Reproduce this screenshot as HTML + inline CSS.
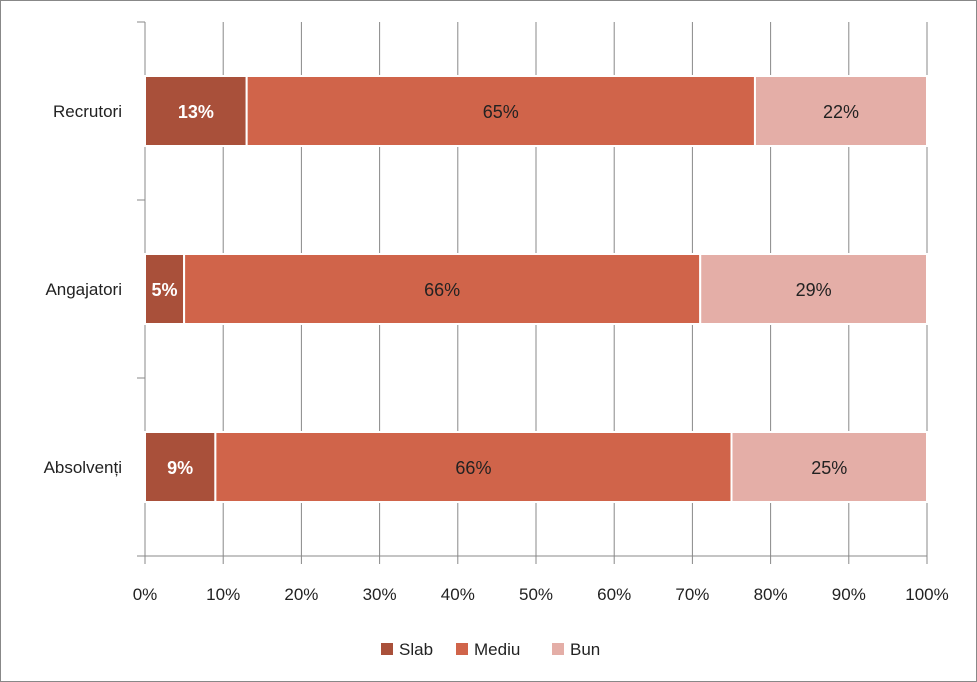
<!DOCTYPE html>
<html><head><meta charset="utf-8"><style>
body{margin:0;background:#fff;}
svg{display:block;font-family:"Liberation Sans",sans-serif;}
</style></head><body>
<svg id="c" width="977" height="682">
<rect x="0.5" y="0.5" width="976" height="681" fill="#fff" stroke="#888"/>
</svg>
<script>
const categories=["Recrutori","Angajatori","Absolvenți"];
const seriesNames=["Slab","Mediu","Bun"];
const slab=[13,5,9];
const mediu=[65,66,66];
const bun=[22,29,25];
const ticks=[0,10,20,30,40,50,60,70,80,90,100];
const colors=["#a9503a","#d0644a","#e4aea7"];
const labelColors=["#fff","#222","#222"];
const svg=document.getElementById('c');
const NS="http://www.w3.org/2000/svg";
const x0=145,x1=927,yTop=22,yBot=556;
const xs=v=>x0+(x1-x0)*v/100;
const band=(yBot-yTop)/categories.length;
function mk(t,a,p){const e=document.createElementNS(NS,t);for(const k in a)e.setAttribute(k,a[k]);(p||svg).appendChild(e);return e;}
ticks.forEach(t=>{
 const g=mk('line',{x1:xs(t),x2:xs(t),y1:yTop,y2:yBot+8,stroke:'#888','stroke-width':1});
 
 
 const l=mk('text',{x:xs(t),y:600,'text-anchor':'middle','font-size':17,fill:'#222'});
 l.textContent=t+'%';
 
 
});
const ax=mk('line',{x1:x0,x2:x1,y1:yBot,y2:yBot,stroke:'#888'});


const ay=mk('line',{x1:x0,x2:x0,y1:yTop,y2:yBot,stroke:'#888'});


for(let i=0;i<=categories.length;i++){
 const tk=mk('line',{x1:x0-8,x2:x0,y1:yTop+band*i,y2:yTop+band*i,stroke:'#888'});
 
 
}
const data=[slab,mediu,bun];
categories.forEach((c,i)=>{
 const cy=yTop+band*i+band/2;
 const h=70;
 const cl=mk('text',{x:122,y:cy+6,'text-anchor':'end','font-size':17,fill:'#222'});
 cl.textContent=c;
 
 
 let acc=0;
 data.forEach((s,j)=>{
  const v=s[i];
  const r=mk('rect',{x:xs(acc),y:cy-h/2,width:xs(acc+v)-xs(acc),height:h,fill:colors[j],stroke:'#fff','stroke-width':2});
  
  
  const t=mk('text',{x:(xs(acc)+xs(acc+v))/2,y:cy+7,'text-anchor':'middle','font-size':18,fill:labelColors[j],'font-weight':j==0?'bold':'normal'});
  t.textContent=v+'%';
  
  
  acc+=v;
 });
});
const lx=[381,456,552];
seriesNames.forEach((n,j)=>{
 const r=mk('rect',{x:lx[j],y:643,width:12,height:12,fill:colors[j]});
 
 
 const t=mk('text',{x:lx[j]+18,y:655,'font-size':17,fill:'#222'});
 t.textContent=n;
 
 
});
</script>
</body></html>
